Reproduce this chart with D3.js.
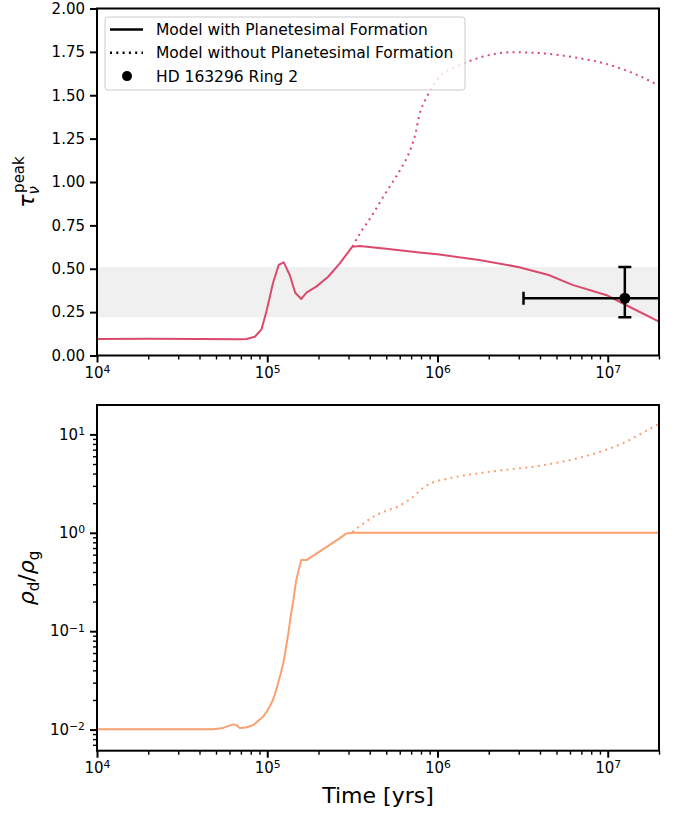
<!DOCTYPE html>
<html>
<head>
<meta charset="utf-8">
<script src="https://cdn.jsdelivr.net/npm/d3@7"></script>
<style>
  body { margin: 0; background: #fff; }
  svg text { font-family: 'DejaVu Sans', sans-serif; fill: #000; }
</style>
</head>
<body>
<div id="grafica"></div>
<script>
// datos
tiempo_tau = [1e4, 2e4, 4e4, 7e4, 7.55e4, 8.46e4, 9.25e4, 9.89e4, 1.08e5, 1.167e5, 1.25e5, 1.355e5,
              1.46e5, 1.585e5, 1.7e5, 1.94e5, 2.28e5, 2.66e5, 3.16e5, 3.49e5, 5e5, 7.83e5, 1e6,
              1.76e6, 3.02e6, 4.5e6, 6.2e6, 9.77e6, 1.34e7, 2e7]
tau_con = [0.095, 0.096, 0.095, 0.094, 0.095, 0.108, 0.151, 0.253, 0.416, 0.522, 0.537, 0.464,
           0.362, 0.326, 0.362, 0.397, 0.454, 0.530, 0.627, 0.631, 0.615, 0.593, 0.583,
           0.551, 0.509, 0.464, 0.407, 0.349, 0.281, 0.195]

tiempo_tau_sin = [3.16e5, 3.56e5, 4.08e5, 4.68e5, 5.35e5, 6.12e5, 7.01e5, 7.43e5, 7.83e5, 8.65e5,
                  9.4e5, 1.03e6, 1.29e6, 1.47e6, 1.85e6, 2.77e6, 3.98e6, 6.2e6, 9.77e6, 1.53e7, 2e7]
tau_sin = [0.627, 0.714, 0.80, 0.897, 0.987, 1.08, 1.20, 1.28, 1.387, 1.49,
           1.554, 1.608, 1.665, 1.689, 1.723, 1.748, 1.743, 1.72, 1.681, 1.612, 1.555]

tiempo_rho = [1e4, 2e4, 3.5e4, 4.8e4, 5.5e4, 6.3e4, 6.6e4, 6.9e4, 7.5e4, 8.26e4, 9.45e4, 1.0e5, 1.04e5, 1.08e5,
              1.12e5, 1.16e5, 1.2e5, 1.24e5, 1.27e5, 1.3e5, 1.33e5, 1.355e5, 1.38e5, 1.42e5, 1.45e5, 1.48e5,
              1.53e5, 1.585e5, 1.7e5, 2.66e5, 2.91e5, 3.16e5, 1e6, 5e6, 2e7]
rho_con = [0.0101, 0.0101, 0.0101, 0.0101, 0.0104, 0.0113, 0.0111, 0.0104, 0.0105, 0.0111, 0.0135, 0.0155, 0.0175, 0.020,
           0.024, 0.030, 0.037, 0.047, 0.058, 0.075, 0.095, 0.12, 0.15, 0.2, 0.26, 0.33,
           0.42, 0.528, 0.528, 0.877, 0.985, 1.0, 1.0, 1.0, 1.0]

tiempo_rho_sin = [3.16e5, 4.18e5, 6.56e5, 7.5e5, 8e5, 8.97e5, 1.17e6, 2.02e6, 3.96e6, 7.78e6, 1.22e7, 1.88e7, 2e7]
rho_sin = [1.02, 1.45, 2.07, 2.47, 2.76, 3.13, 3.57, 4.17, 4.8, 6.16, 8.1, 12.1, 12.8]

// observacion HD 163296 Ring 2
obs_t = 1.26e7
obs_t_min = 3.2e6
obs_t_max = 3.0e7
obs_tau = 0.33
obs_tau_min = 0.22
obs_tau_max = 0.51

ticks_tau = [0, 0.25, 0.5, 0.75, 1.0, 1.25, 1.5, 1.75, 2.0]
ticks_decadas_x = [4, 5, 6, 7]
ticks_decadas_y = [-2, -1, 0, 1]

leyenda = ['Model with Planetesimal Formation', 'Model without Planetesimal Formation', 'HD 163296 Ring 2']

colorTau = '#db4a6c'
colorRho = '#fba06f'

ancho_total = 680
alto_total = 815
izq = 97
der = 659

svg = d3.select('#grafica')
        .append('svg')
        .attr('width', ancho_total)
        .attr('height', alto_total)

x = d3.scaleLog().domain([1e4, 2e7]).range([izq, der])
yTau = d3.scaleLinear().domain([0, 2]).range([355.5, 8.5])
yRho = d3.scaleLog().domain([6.1e-3, 19.9]).range([750.7, 405])

function minores(lo, hi) {
  out = []
  for (e = lo; e <= hi; e++) {
    for (m = 2; m <= 9; m++) out.push(m * Math.pow(10, e))
  }
  return out
}

function potencia(sel) {
  sel.text(null)
  sel.append('tspan').text('10')
  sel.append('tspan')
     .attr('dy', '-0.45em')
     .attr('font-size', '0.72em')
     .text((d) => String(Math.round(Math.log10(d))).replace('-', '\u2212'))
}

function ejeX(yBase) {
  gx = svg.append('g').attr('transform', `translate(0, ${yBase})`)
  gx.call(d3.axisBottom(x).tickValues(minores(4, 7).filter((d) => d <= 2e7)).tickSize(4).tickFormat(''))
  gx.selectAll('.tick line').attr('stroke-width', 1.4)
  gx2 = svg.append('g').attr('transform', `translate(0, ${yBase})`)
  gx2.call(d3.axisBottom(x).tickValues(ticks_decadas_x.map((e) => Math.pow(10, e))).tickSize(7).tickPadding(5))
  gx2.selectAll('.tick line').attr('stroke-width', 2)
  gx2.selectAll('.tick text').attr('font-size', '15px').call(potencia)
  gx.select('.domain').remove()
  gx2.select('.domain').remove()
}

function marco(top, bottom) {
  svg.append('rect')
     .attr('x', izq).attr('y', top)
     .attr('width', der - izq).attr('height', bottom - top)
     .attr('fill', 'none').attr('stroke', '#000').attr('stroke-width', 2)
}

// clips
defs = svg.append('defs')
defs.append('clipPath').attr('id', 'clipTop')
    .append('rect').attr('x', izq).attr('y', 8.5).attr('width', der - izq).attr('height', 347)
defs.append('clipPath').attr('id', 'clipBot')
    .append('rect').attr('x', izq).attr('y', 405).attr('width', der - izq).attr('height', 345.7)

// ---------------- panel superior ----------------
gTop = svg.append('g').attr('clip-path', 'url(#clipTop)')

gTop.append('rect')
    .attr('x', izq).attr('width', der - izq)
    .attr('y', yTau(obs_tau_max))
    .attr('height', yTau(obs_tau_min) - yTau(obs_tau_max))
    .attr('fill', '#f0f0f0')

lineaTau = d3.line().x((d) => x(d[0])).y((d) => yTau(d[1]))
lineaTauSuave = d3.line().x((d) => x(d[0])).y((d) => yTau(d[1])).curve(d3.curveMonotoneX)

gTop.append('path')
    .datum(d3.zip(tiempo_tau_sin, tau_sin))
    .attr('d', lineaTauSuave)
    .attr('fill', 'none').attr('stroke', colorTau).attr('stroke-width', 2)
    .attr('stroke-dasharray', '2,4.3')

gTop.append('path')
    .datum(d3.zip(tiempo_tau, tau_con))
    .attr('d', lineaTau)
    .attr('fill', 'none').attr('stroke', colorTau).attr('stroke-width', 2)
    .attr('stroke-linejoin', 'round')

// barra de error
gTop.append('line')
    .attr('x1', x(obs_t_min)).attr('x2', x(obs_t_max))
    .attr('y1', yTau(obs_tau)).attr('y2', yTau(obs_tau))
    .attr('stroke', '#000').attr('stroke-width', 2.5)
gTop.append('line')
    .attr('x1', x(obs_t)).attr('x2', x(obs_t))
    .attr('y1', yTau(obs_tau_min)).attr('y2', yTau(obs_tau_max))
    .attr('stroke', '#000').attr('stroke-width', 2.5)
capas = [[x(obs_t), yTau(obs_tau_min), 'h'], [x(obs_t), yTau(obs_tau_max), 'h'], [x(obs_t_min), yTau(obs_tau), 'v']]
capas.forEach((c) => {
  gTop.append('line')
      .attr('x1', c[2] == 'h' ? c[0] - 6.5 : c[0]).attr('x2', c[2] == 'h' ? c[0] + 6.5 : c[0])
      .attr('y1', c[2] == 'h' ? c[1] : c[1] - 6.5).attr('y2', c[2] == 'h' ? c[1] : c[1] + 6.5)
      .attr('stroke', '#000').attr('stroke-width', 2.5)
})
gTop.append('circle')
    .attr('cx', x(obs_t)).attr('cy', yTau(obs_tau)).attr('r', 5.5).attr('fill', '#000')

// ejes superiores
yTauG = svg.append('g').attr('transform', `translate(${izq},0)`)
yTauG.call(d3.axisLeft(yTau).tickValues(ticks_tau).tickFormat(d3.format('.2f')).tickSize(7).tickPadding(5))
yTauG.select('.domain').remove()
yTauG.selectAll('.tick line').attr('stroke-width', 2)
yTauG.selectAll('.tick text').attr('font-size', '15px')
ejeX(355.5)
marco(8.5, 355.5)

// leyenda
legG = svg.append('g')
legG.append('rect')
    .attr('x', 105).attr('y', 17).attr('width', 360).attr('height', 73).attr('rx', 3)
    .attr('fill', '#fff').attr('fill-opacity', 0.8)
    .attr('stroke', '#cccccc').attr('stroke-width', 1)
leyenda.forEach((txt, i) => {
  yy = 29.5 + i * 23.3
  if (i < 2) {
    legG.append('line')
        .attr('x1', 110).attr('x2', 143).attr('y1', yy).attr('y2', yy)
        .attr('stroke', '#000').attr('stroke-width', 2.5)
        .attr('stroke-dasharray', i == 1 ? '2,4.3' : null)
  } else {
    legG.append('circle').attr('cx', 127).attr('cy', yy).attr('r', 5).attr('fill', '#000')
  }
  legG.append('text')
      .attr('x', 156).attr('y', yy).attr('dy', '0.36em')
      .attr('font-size', '15.5px')
      .text(txt)
})

// etiqueta y superior
etTau = svg.append('text')
           .attr('transform', 'translate(34,182) rotate(-90)')
           .attr('text-anchor', 'middle')
           .attr('font-size', '22px')
etTau.append('tspan').attr('font-style', 'italic').text('\u03c4')
etTau.append('tspan').attr('font-style', 'italic').attr('font-size', '15px').attr('dy', '0.3em').text('\u03bd')
etTau.append('tspan').attr('font-size', '15px').attr('dy', '-0.95em').attr('dx', '-0.45em').text('peak')

// ---------------- panel inferior ----------------
gBot = svg.append('g').attr('clip-path', 'url(#clipBot)')
lineaRho = d3.line().x((d) => x(d[0])).y((d) => yRho(d[1]))
lineaRhoSuave = d3.line().x((d) => x(d[0])).y((d) => yRho(d[1])).curve(d3.curveMonotoneX)

gBot.append('path')
    .datum(d3.zip(tiempo_rho_sin, rho_sin))
    .attr('d', lineaRhoSuave)
    .attr('fill', 'none').attr('stroke', colorRho).attr('stroke-width', 2)
    .attr('stroke-dasharray', '2,4.3')

gBot.append('path')
    .datum(d3.zip(tiempo_rho, rho_con))
    .attr('d', lineaRho)
    .attr('fill', 'none').attr('stroke', colorRho).attr('stroke-width', 2)
    .attr('stroke-linejoin', 'round')

yRhoMin = svg.append('g').attr('transform', `translate(${izq},0)`)
yRhoMin.call(d3.axisLeft(yRho).tickValues(minores(-3, 1).filter((d) => d >= 6.1e-3 && d <= 19.9)).tickSize(4).tickFormat(''))
yRhoMin.select('.domain').remove()
yRhoMin.selectAll('.tick line').attr('stroke-width', 1.4)

yRhoG = svg.append('g').attr('transform', `translate(${izq},0)`)
yRhoG.call(d3.axisLeft(yRho).tickValues(ticks_decadas_y.map((e) => Math.pow(10, e))).tickSize(7).tickPadding(5))
yRhoG.select('.domain').remove()
yRhoG.selectAll('.tick line').attr('stroke-width', 2)
yRhoG.selectAll('.tick text').attr('font-size', '15px').call(potencia)

ejeX(750.7)
marco(405, 750.7)

etRho = svg.append('text')
           .attr('transform', 'translate(34,578) rotate(-90)')
           .attr('text-anchor', 'middle')
           .attr('font-size', '22px')
etRho.append('tspan').attr('font-style', 'italic').text('\u03c1')
etRho.append('tspan').attr('font-size', '15px').attr('dy', '0.3em').text('d')
etRho.append('tspan').attr('dy', '-0.2em').text('/')
etRho.append('tspan').attr('font-style', 'italic').text('\u03c1')
etRho.append('tspan').attr('font-size', '15px').attr('dy', '0.3em').text('g')

svg.append('text')
   .attr('x', (izq + der) / 2).attr('y', 803)
   .attr('text-anchor', 'middle')
   .attr('font-size', '22px')
   .text('Time [yrs]')
</script>
</body>
</html>
